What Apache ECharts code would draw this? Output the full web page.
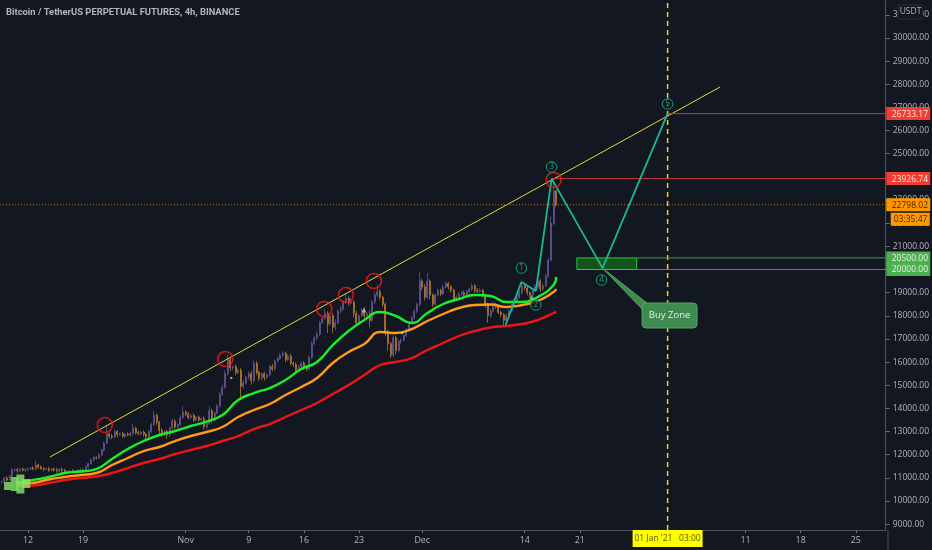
<!DOCTYPE html>
<html>
<head>
<meta charset="utf-8">
<style>html,body{margin:0;padding:0;background:#131722}#c{width:932px;height:550px}</style>
<script src="https://cdn.jsdelivr.net/npm/echarts@6/dist/echarts.min.js"></script>
</head>
<body>
<div id="c"></div>
<script>
const titleText = "Bitcoin / TetherUS PERPETUAL FUTURES, 4h, BINANCE";
const candleStart = "2020-10-08T16:00";
const closes = [
10820,10990,10900,11080,11340,11350,11310,11380,11330,11360,11400,11420,11380,11560,11470,11400,11370,11390,11330,11380,
11340,11300,11380,11330,11250,11260,11300,11280,11290,11330,11340,11310,11480,11620,11780,11880,11860,11980,12200,12500,
12900,12800,12760,13000,12880,12900,12800,12880,12850,12920,13150,12960,12900,12980,12880,12780,13000,13300,13700,13400,
13050,12900,13000,12850,13150,13450,13200,13300,13600,13850,13750,13600,13700,13500,13620,13500,13560,13200,13350,13900,
13500,13800,14100,14600,14900,15500,16100,15750,15800,15550,15650,14950,15100,15350,15500,15200,15950,15550,15300,15500,
15350,15450,15800,15700,16050,16150,16300,16380,16100,16250,15950,15900,15650,15800,15950,15750,15700,16200,16800,17050,
17200,17700,17900,18100,17650,18000,17500,17700,18200,18300,18600,18750,18550,18600,18100,17700,18000,18250,18000,18100,
17800,18600,18900,19050,18800,18500,17300,16800,16300,17050,16500,16900,16950,17150,17400,17700,17900,18200,18500,19500,
19250,18800,19500,18900,18500,18900,19100,18950,19250,19400,19250,19100,18700,18800,18950,19000,18900,19050,19150,19300,
19100,19050,19100,18900,18500,18000,18200,18500,18400,18150,18050,17800,18000,18200,18450,18650,18800,19000,19300,19200,
19000,18900,19100,19250,19500,19150,19300,19700,20400,22000,23400,22798.02];
const wickUp = [
60,40,80,50,90,60,80,40,70,50,60,50,90,190,50,70,60,40,80,40,
60,90,40,70,60,50,40,80,50,40,60,70,50,40,60,80,50,90,60,70,
360,60,100,90,70,50,80,60,90,70,170,60,80,50,70,60,70,90,200,80,
70,100,60,90,60,100,80,60,90,250,60,90,70,80,60,70,50,90,60,200,
80,70,90,100,120,150,240,100,60,110,70,90,120,60,90,120,120,90,80,70,
90,70,80,110,60,90,80,100,60,70,120,70,90,80,60,90,70,80,100,80,
120,90,70,190,100,90,120,150,80,130,70,230,80,150,70,110,70,80,120,60,
130,90,120,280,90,60,70,100,70,110,80,60,80,90,70,60,90,80,70,400,
100,120,350,80,70,60,90,70,110,90,60,80,70,90,60,80,90,70,60,100,
70,90,80,60,50,70,90,80,60,80,60,70,100,80,60,90,70,100,150,80,
90,60,70,110,90,80,100,120,100,300,526,0];
const wickDown = [
80,60,70,50,100,70,90,60,50,80,70,60,50,70,80,50,90,60,70,50,
70,90,60,110,60,50,70,60,40,50,80,90,40,60,50,70,60,40,50,60,
50,100,90,60,120,70,60,90,60,70,80,90,60,70,100,160,50,60,50,100,
250,130,90,170,70,60,100,60,70,60,90,70,60,90,70,80,60,110,100,70,
150,80,60,70,60,50,90,130,100,120,90,450,100,60,90,170,80,110,120,90,
150,100,60,90,70,60,50,80,110,60,90,120,100,60,70,100,90,50,70,60,
100,70,60,80,400,90,250,110,70,90,60,80,110,70,150,100,90,70,160,80,
280,60,90,70,120,100,180,300,130,90,170,80,110,70,60,90,60,70,90,80,
140,130,80,180,120,70,80,100,60,70,110,90,120,70,60,80,90,60,70,80,
110,70,60,110,150,300,90,60,100,80,120,200,60,70,60,50,80,60,90,100,
120,100,60,50,80,120,70,60,70,50,90,100];

const maIndexes = [6,12,18,24,30,36,42,48,54,60,66,72,78,84,90,96,102,108,114,120,126,132,138,144,150,156,162,168,174,180,186,192,198,204,210,211];
const maGreen = [10776,10906,11036,11208,11273,11381,11813,12245,12591,12850,13023,13239,13433,13714,14362,14664,14880,15226,15701,16004,16738,17343,17818,18164,17991,17688,18120,18509,18725,18898,18855,18596,18596,18812,19330,19676];
const maOrange = [10690,10776,10928,11036,11122,11208,11554,11856,12159,12332,12591,12807,12980,13196,13628,13930,14189,14578,14924,15312,15960,16436,16781,17300,17256,17429,17775,18077,18336,18466,18488,18380,18466,18639,19028,19157];
const maRed = [10647,10668,10776,10906,10992,11057,11208,11424,11640,11813,12029,12202,12375,12591,12807,13109,13325,13628,13930,14232,14621,15010,15442,15874,16004,16176,16522,16824,17127,17343,17494,17559,17645,17818,18120,18164];

const trendDates = ["2020-10-14T19:00","2021-01-07T19:00"];
const trendPrices = [11900,27884];
const waveDates = ["2020-12-11T14:00","2020-12-13T14:00","2020-12-15T10:00","2020-12-17T10:00","2020-12-23T21:00","2021-01-01T03:00"];
const wavePrices = [17602,19460,19071,23926.74,20060,26733.17];
const waveLabelTexts = ["1","2","3","4","5"];
const waveLabelDates = ["2020-12-13T14:00","2020-12-15T10:00","2020-12-17T10:00","2020-12-23T18:00","2021-01-01T03:00"];
const waveLabelPrices = [20064,18466,24428,19546,27149];
const circleDates = ["2020-10-21T18:00","2020-11-06T01:00","2020-11-18T14:00","2020-11-21T08:00","2020-11-24T21:00","2020-12-17T16:00"];
const circlePrices = [13282,16133,18293,18898,19503,23866];
const plusDates = ["2020-10-09T10:00","2020-10-10T07:00","2020-10-11T01:00","2020-10-11T19:00"];
const plusPrices = [10647,10733,10733,10755];
const triangleDates = ["2020-11-23T15:00","2020-12-14T21:00"];
const trianglePrices = [18250,18812];
const dotDates = ["2020-11-28T10:00","2020-11-06T19:00"];
const dotPrices = [17256,15312];

const levelHighDate = "2020-12-17T10:00", levelHigh = 23926.74;
const levelTargetDate = "2021-01-01T03:00", levelTarget = 26733.17;
const lastPrice = 22798.02;
const zoneStart = "2020-12-20T15:00", zoneEnd = "2020-12-28T05:00", zoneTop = 20500, zoneBottom = 20000;
const crossDate = "2021-01-01T03:00";
const crossText = "01 Jan '21   03:00";
const countdownText = "03:35:47";
const calloutText = "Buy Zone";
const calloutAnchorDate = "2020-12-23T21:00", calloutAnchorPrice = 20060;
const calloutDate = "2021-01-01T09:00", calloutPrice = 18012;

const tagPrices = [26733.17,23926.74,22798.02,20500,20000];
const tagKinds = ["red","red","orange","green","green"];

const yTickValues = [9000,10000,11000,12000,13000,14000,15000,16000,17000,18000,19000,20000,21000,22000,23000,24000,25000,26000,27000,28000,29000,30000,31000];
const xTickDates = ["2020-10-12","2020-10-19","2020-11-01","2020-11-09","2020-11-16","2020-11-23","2020-12-01","2020-12-14","2020-12-21","2021-01-11","2021-01-18","2021-01-25"];
const xTickLabels = ["12","19","Nov","9","16","23","Dec","14","21","11","18","25"];

const T = s => new Date((s.length === 10 ? s + "T00:00" : s) + ":00Z").getTime();
const H8 = 8 * 3600 * 1000;
const t0 = T(candleStart);
const candleTimes = closes.map((_, i) => t0 + i * H8);
const candleData = closes.map((c, i) => {
  const o = i === 0 ? c : closes[i - 1];
  return [candleTimes[i], o, c, Math.min(o, c) - wickDown[i], Math.max(o, c) + wickUp[i]];
});
const xMin = T("2020-10-08T11:00"), xMax = T("2021-01-28T19:00");
const yMin = 8747, yMax = 31641;
const xTicks = xTickDates.map(T);
const pair = (ds, vs) => ds.map((d, i) => [T(d), vs[i]]);
const ma = vs => vs.map((v, i) => [candleTimes[maIndexes[i]], v]);
const font = "'Open Sans','Liberation Sans',sans-serif";
const tagColor = {red:["#f23d37","#f4f0d8"],orange:["#ff9800","#3a2a08"],green:["#4caf50","#e8f3e4"]};
const fmt = v => v.toFixed(2);
const hLine = (name, data, color, width, type) => ({
  type:"line", name, data, showSymbol:false, symbol:"none", silent:true, z:4,
  lineStyle:{color, width, type: type || "solid"}
});

const option = {
  animation:false,
  backgroundColor:"#131722",
  title:{text:titleText,left:1,top:3,textStyle:{color:"#b2b5be",fontSize:9.4,fontWeight:"bold",fontFamily:"Roboto,'Liberation Sans',sans-serif"}},
  grid:{left:0,right:44,top:0,bottom:20,containLabel:false},
  xAxis:{
    type:"value",min:xMin,max:xMax,scale:true,
    axisLine:{show:true,onZero:false,lineStyle:{color:"#50535e",width:1}},
    splitLine:{show:false},
    axisTick:{show:true,customValues:xTicks,length:3,lineStyle:{color:"#6a6d78"}},
    axisLabel:{customValues:xTicks,color:"#b2b5be",fontSize:8.8,fontFamily:font,margin:6,hideOverlap:false,
      formatter:v=>{const i=xTicks.indexOf(v);return i<0?"":xTickLabels[i];}}
  },
  yAxis:{
    type:"value",position:"right",min:yMin,max:yMax,scale:true,
    axisLine:{show:true,onZero:false,lineStyle:{color:"#50535e",width:1}},
    splitLine:{show:false},
    axisTick:{show:true,customValues:yTickValues,length:4,lineStyle:{color:"#6a6d78"}},
    axisLabel:{customValues:yTickValues,color:"#b2b5be",fontSize:8.5,fontFamily:font,margin:7,formatter:fmt}
  },
  graphic:[
    {type:"line",z:1,shape:{x1:888,y1:530,x2:888,y2:550},style:{stroke:"#50535e",lineWidth:1}},
    {type:"rect",z:100,shape:{x:898,y:5,width:25,height:14,r:2},style:{fill:"#131722",stroke:"#2a2e39",lineWidth:1}},
    {type:"text",z:101,x:910.5,y:12,style:{text:"USDT",fill:"#b2b5be",font:"8.5px "+font,align:"center",verticalAlign:"middle"}}
  ],
  series:[
    {type:"candlestick",name:"Price",data:candleData,barWidth:1.5,encode:{x:0,y:[1,2,3,4]},z:2,
     itemStyle:{color:"#62548f",color0:"#b27626",borderColor:"#62548f",borderColor0:"#b27626",borderWidth:0.8}},
    {type:"line",name:"MA green",data:ma(maGreen),smooth:0.5,symbol:"none",z:3,lineStyle:{color:"#18f02a",width:2.4}},
    {type:"line",name:"MA orange",data:ma(maOrange),smooth:0.5,symbol:"none",z:3,lineStyle:{color:"#ff9a1a",width:2.4}},
    {type:"line",name:"MA red",data:ma(maRed),smooth:0.5,symbol:"none",z:3,lineStyle:{color:"#f21414",width:2.4}},
    hLine("Trend",pair(trendDates,trendPrices),"#e8d83a",1),
    hLine("High level",[[T(levelHighDate),levelHigh],[xMax,levelHigh]],"#c43b3b",1),
    hLine("Target level",[[T(levelTargetDate),levelTarget],[xMax,levelTarget]],"#c43b3b",1),
    hLine("Last price",[[xMin,lastPrice],[xMax,lastPrice]],"#b9771c",1,[1,2]),
    hLine("Zone top",[[T(zoneEnd),zoneTop],[xMax,zoneTop]],"#3f9a4c",1),
    hLine("Zone bottom",[[T(zoneEnd),zoneBottom],[xMax,zoneBottom]],"#3f9a4c",1),
    {type:"custom",name:"Cross",z:4,data:[[T(crossDate),yMin,T(crossDate),yMax]],encode:{x:[0,2],y:[1,3]},
     renderItem:(p,api)=>{const a=api.coord([api.value(0),api.value(1)]),b=api.coord([api.value(2),api.value(3)]);
       return {type:"line",shape:{x1:a[0],y1:a[1],x2:b[0],y2:b[1]},style:{stroke:"#f5d000",lineWidth:1.5,lineDash:[5,4]}};}},
    {type:"custom",name:"Buy zone",z:4,data:[[T(zoneStart),zoneTop,T(zoneEnd),zoneBottom]],encode:{x:[0,2],y:[1,3]},
     renderItem:(p,api)=>{const a=api.coord([api.value(0),api.value(1)]),b=api.coord([api.value(2),api.value(3)]);
       return {type:"rect",shape:{x:a[0],y:a[1],width:b[0]-a[0],height:b[1]-a[1]},style:{fill:"#12541b",stroke:"#21d13a",lineWidth:1}};}},
    hLine("Wave",pair(waveDates,wavePrices),"#1cb88e",1.8),
    {type:"scatter",name:"Peaks",z:6,data:pair(circleDates,circlePrices),symbol:"circle",symbolSize:15,silent:true,
     itemStyle:{color:"rgba(0,0,0,0)",borderColor:"#f01818",borderWidth:1.7}},
    {type:"scatter",name:"Wave labels",z:7,data:pair(waveLabelDates,waveLabelPrices),symbol:"circle",symbolSize:10.5,silent:true,
     itemStyle:{color:"#131722",borderColor:"#1cb88e",borderWidth:1},
     label:{show:true,position:"inside",color:"#1cb88e",fontSize:8.5,fontFamily:font,formatter:o=>waveLabelTexts[o.dataIndex]}},
    {type:"scatter",name:"Plus marks",z:5,data:pair(plusDates,plusPrices),symbol:"rect",silent:true,
     symbolSize:(v,o)=>[[7,8],[7,14],[8,19],[8,9]][o.dataIndex],itemStyle:{color:"#86ea6a"}},
    {type:"scatter",name:"Triangles",z:5,data:pair(triangleDates,trianglePrices),symbol:"triangle",symbolSize:5,silent:true,itemStyle:{color:"#8fd98a"}},
    {type:"scatter",name:"Dots",z:5,data:pair(dotDates,dotPrices),symbol:"rect",symbolSize:2,silent:true,itemStyle:{color:"#f0e63c"}},
    {type:"custom",name:"Callout",z:8,data:[[T(calloutDate),calloutPrice,T(calloutAnchorDate),calloutAnchorPrice]],encode:{x:[0,2],y:[1,3]},
     renderItem:(p,api)=>{const c=api.coord([api.value(0),api.value(1)]),a=api.coord([api.value(2),api.value(3)]);
       const w=55,h=25,x=c[0]-w/2,y=c[1]-h/2;
       return {type:"group",children:[
         {type:"polygon",shape:{points:[a,[x+1,y+7],[x+6,y+1]]},style:{fill:"#3f8a4e",stroke:"#4fa560",lineWidth:1}},
         {type:"rect",shape:{x,y,width:w,height:h,r:4},style:{fill:"#3f8a4e",stroke:"#52a863",lineWidth:1}},
         {type:"text",style:{x:c[0],y:c[1],text:calloutText,fill:"#e8ece8",font:"9.5px "+font,align:"center",verticalAlign:"middle"}}
       ]};}},
    {type:"custom",name:"Price tags",z:20,data:tagPrices.map((v,i)=>[xMax,v,i]),encode:{x:0,y:1},
     renderItem:(p,api)=>{const c=api.coord([api.value(0),api.value(1)]);const i=api.value(2);const k=tagColor[tagKinds[i]];
       const kids=[{type:"rect",shape:{x:c[0]+0.5,y:c[1]-6.5,width:44,height:13},style:{fill:k[0]}},
         {type:"text",style:{x:c[0]+6,y:c[1]+0.5,text:fmt(tagPrices[i]),fill:k[1],font:"8.5px "+font,verticalAlign:"middle"}}];
       if(tagPrices[i]===lastPrice){kids.push({type:"rect",shape:{x:c[0]+5,y:c[1]+8,width:39,height:13},style:{fill:k[0]}},
         {type:"text",style:{x:c[0]+8,y:c[1]+14.5,text:countdownText,fill:k[1],font:"8.5px "+font,verticalAlign:"middle"}});}
       return {type:"group",children:kids};}},
    {type:"custom",name:"Cross tag",z:20,data:[[T(crossDate),yMin]],encode:{x:0,y:1},
     renderItem:(p,api)=>{const c=api.coord([api.value(0),api.value(1)]);
       return {type:"group",children:[
         {type:"rect",shape:{x:c[0]-35,y:c[1],width:70,height:17},style:{fill:"#ffff00"}},
         {type:"text",style:{x:c[0],y:c[1]+8.5,text:crossText,fill:"#5a5410",font:"8.5px "+font,align:"center",verticalAlign:"middle"}}
       ]};}}
  ]
};
echarts.init(document.getElementById("c"),null,{renderer:"canvas"}).setOption(option);
</script>
</body>
</html>
